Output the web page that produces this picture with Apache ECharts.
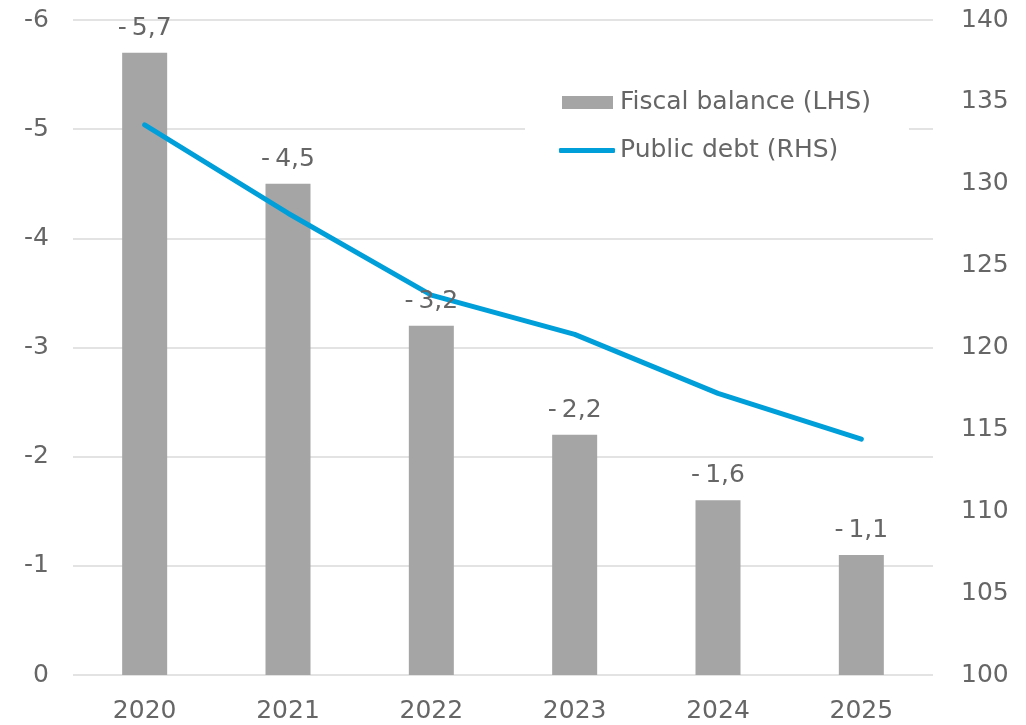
<!DOCTYPE html>
<html>
<head>
<meta charset="utf-8">
<script src="https://cdn.jsdelivr.net/npm/echarts@6/dist/echarts.min.js"></script>
<style>
  html, body { margin: 0; padding: 0; background: #ffffff; }
  #chart { width: 1026px; height: 725px; }
</style>
</head>
<body>
<div id="chart"></div>
<script>
// Years on the category axis
const years = ['2020', '2021', '2022', '2023', '2024', '2025'];
// Fiscal balance, % of GDP (left axis, inverted)
const fiscalBalance = [-5.7, -4.5, -3.2, -2.2, -1.6, -1.1];
// Public debt, % of GDP (right axis)
const publicDebt = [133.6, 128.2, 123.2, 120.8, 117.2, 114.4];

const textColor = '#666666';
const fontFamily = '"DejaVu Sans", Verdana, sans-serif';
const fontSize = 25;

const chart = echarts.init(document.getElementById('chart'), null, { renderer: 'canvas' });

const legendText = { fontSize: fontSize, color: textColor, fontFamily: fontFamily };

chart.setOption({
  animation: false,
  backgroundColor: '#ffffff',
  textStyle: { fontFamily: fontFamily, color: textColor },
  grid: { left: 73, right: 93, top: 20, bottom: 50, containLabel: false },
  legend: [
    {
      // bar entry; its white box also covers the second row
      orient: 'vertical',
      left: 525,
      top: 78,
      padding: [12, 38, 62, 37],
      backgroundColor: '#ffffff',
      itemWidth: 51,
      itemHeight: 13,
      data: [{ name: 'Fiscal balance (LHS)', icon: 'rect' }],
      textStyle: Object.assign({ padding: [0, 0, 0, 2] }, legendText),
      z: 4
    },
    {
      orient: 'vertical',
      left: 525,
      top: 126,
      padding: [12, 40, 12, 34],
      itemWidth: 56,
      itemHeight: 5,
      data: [{ name: 'Public debt (RHS)', icon: 'roundRect' }],
      textStyle: legendText,
      z: 5
    }
  ],
  xAxis: {
    type: 'category',
    data: years,
    axisLine: { show: false },
    axisTick: { show: false },
    axisLabel: { fontSize: fontSize, color: textColor, fontFamily: fontFamily, margin: 24 }
  },
  yAxis: [
    {
      type: 'value',
      inverse: true,
      min: -6,
      max: 0,
      interval: 1,
      position: 'left',
      axisLine: { show: false },
      axisTick: { show: false },
      axisLabel: { fontSize: fontSize, color: textColor, fontFamily: fontFamily, margin: 24 },
      splitLine: { show: true, lineStyle: { color: '#e3e3e3', width: 2 } }
    },
    {
      type: 'value',
      min: 100,
      max: 140,
      interval: 5,
      position: 'right',
      axisLine: { show: false },
      axisTick: { show: false },
      axisLabel: { fontSize: fontSize, color: textColor, fontFamily: fontFamily, margin: 28 },
      splitLine: { show: false }
    }
  ],
  series: [
    {
      name: 'Fiscal balance (LHS)',
      type: 'bar',
      yAxisIndex: 0,
      data: fiscalBalance,
      barWidth: 45,
      itemStyle: { color: '#a5a5a5' },
      z: 2
    },
    {
      name: 'Public debt (RHS)',
      type: 'line',
      yAxisIndex: 1,
      data: publicDebt,
      symbol: 'none',
      lineStyle: { color: '#009fda', width: 5, cap: 'round', join: 'round' },
      itemStyle: { color: '#009fda' },
      z: 3
    },
    {
      // value labels above the bars, drawn over the debt line
      name: 'labels',
      type: 'bar',
      yAxisIndex: 0,
      data: fiscalBalance,
      barWidth: 45,
      barGap: '-100%',
      silent: true,
      itemStyle: { color: 'rgba(0,0,0,0)' },
      z: 5,
      label: {
        show: true,
        position: 'top',
        distance: 12,
        fontSize: fontSize,
        color: textColor,
        fontFamily: fontFamily,
        formatter: p => String(p.value).replace('-', '-\u2009').replace('.', ',')
      }
    }
  ]
});
</script>
</body>
</html>
